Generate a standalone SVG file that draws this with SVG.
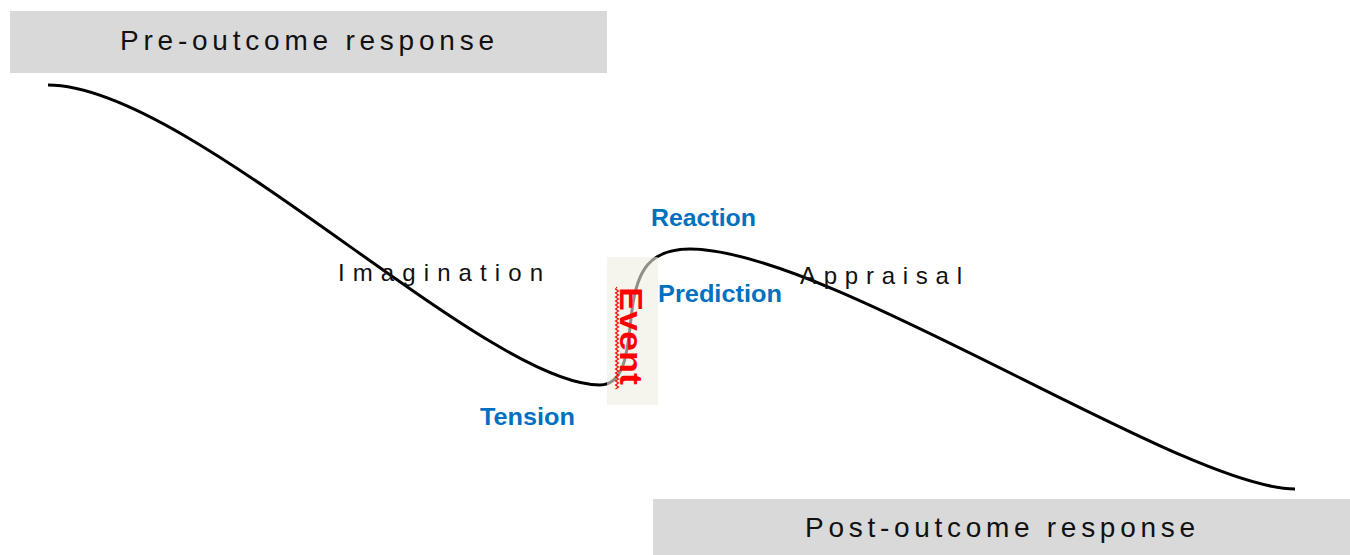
<svg xmlns="http://www.w3.org/2000/svg" width="1350" height="555" viewBox="0 0 1350 555">
<style>
.hdr{fill:#d9d9d9}
.htxt{font-family:"Liberation Sans",Arial,sans-serif;font-size:28px;fill:#111}
.ltxt{font-family:"Liberation Sans",Arial,sans-serif;font-size:24px;fill:#111}
.blue{font-family:"Liberation Sans",Arial,sans-serif;font-size:24px;font-weight:bold;fill:#0070c0}
.curve{fill:none;stroke:#000;stroke-width:3}
</style>
<rect width="1350" height="555" fill="#fff"/>
<g id="pre-outcome">
<rect class="hdr" x="10" y="11" width="597" height="62"/>
<text class="htxt" x="120" y="50" textLength="374" lengthAdjust="spacing">Pre-outcome response</text>
</g>
<g id="post-outcome">
<rect class="hdr" x="653" y="499" width="697" height="56"/>
<text class="htxt" x="805" y="537" textLength="390" lengthAdjust="spacing">Post-outcome response</text>
</g>
<g id="connectors">
<path class="curve" d="M48,85 C190,85 484,385 600,385 C628,385 628,340 632,310 C637,270 650,249 690,249 C828,249 1183,489 1295,489"/>
</g>
<g id="event">
<rect x="607" y="257" width="51" height="148" fill="#eeece1" fill-opacity="0.6"/>
<path d="M617,287 l-1.5,2 l3,2 l-3,2 l3,2 l-3,2 l3,2 l-3,2 l3,2 l-3,2 l3,2 l-3,2 l3,2 l-3,2 l3,2 l-3,2 l3,2 l-3,2 l3,2 l-3,2 l3,2 l-3,2 l3,2 l-3,2 l3,2 l-3,2 l3,2 l-3,2 l3,2 l-3,2 l3,2 l-3,2 l3,2 l-3,2 l3,2 l-3,2 l3,2 l-3,2 l3,2 l-3,2 l3,2 l-3,2 l3,2 l-3,2 l3,2 l-3,2 l3,2 l-3,2 l3,2 l-3,2 l3,2 l-3,2" fill="none" stroke="#ff0000" stroke-width="1.1"/>
<text transform="translate(620,287) rotate(90)" x="0" y="0" font-family="Liberation Sans, Arial, sans-serif" font-size="32" font-weight="bold" fill="#ff0000" textLength="98" lengthAdjust="spacingAndGlyphs">Event</text>
</g>
<g id="imagination">
<text class="ltxt" x="338" y="281" textLength="205" lengthAdjust="spacing">Imagination</text>
</g>
<g id="appraisal">
<text class="ltxt" x="800" y="284" textLength="162" lengthAdjust="spacing">Appraisal</text>
</g>
<g id="reaction">
<text class="blue" x="651" y="226" textLength="105" lengthAdjust="spacingAndGlyphs">Reaction</text>
</g>
<g id="prediction">
<text class="blue" x="658" y="302" textLength="124" lengthAdjust="spacingAndGlyphs">Prediction</text>
</g>
<g id="tension">
<text class="blue" x="480" y="425" textLength="95" lengthAdjust="spacingAndGlyphs">Tension</text>
</g>
</svg>
